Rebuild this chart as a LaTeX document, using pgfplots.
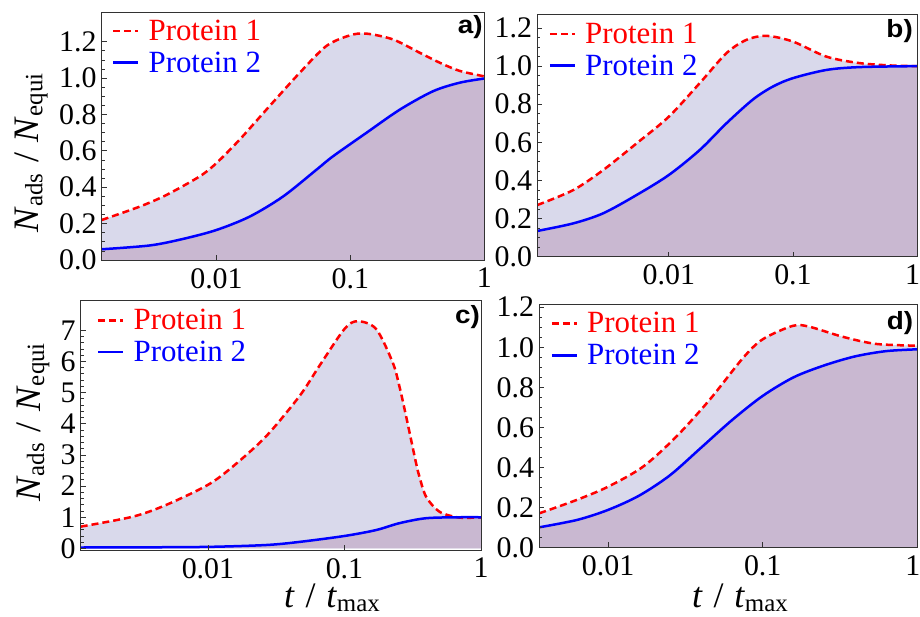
\documentclass[border=0pt]{standalone}
\usepackage{fontspec}
\setmainfont{Liberation Serif}
\setsansfont{Liberation Sans}
\usepackage{pgfplots}
\pgfplotsset{compat=1.18}
\definecolor{lightfill}{RGB}{217,217,235}
\definecolor{darkfill}{RGB}{201,184,209}
\definecolor{framegray}{RGB}{50,50,50}

\pgfplotstableread{
x y
0.00139 0.22
0.00268 0.294
0.00424 0.358
0.0075 0.46
0.01 0.533
0.0149 0.662
0.0236 0.827
0.0419 1.03
0.0662 1.177
0.0989 1.235
0.1315 1.245
0.208 1.213
0.329 1.14
0.465 1.085
0.655 1.04
1 1.01
}\redA
\pgfplotstableread{
x y
0.00139 0.059
0.00318 0.080
0.00564 0.116
0.01 0.165
0.01774 0.239
0.0314 0.349
0.0557 0.496
0.0741 0.570
0.1315 0.699
0.234 0.827
0.414 0.928
0.655 0.975
1 0.998
}\blueA
\pgfplotstableread{
x y
0.00087 0.271
0.0017 0.35
0.00296 0.455
0.0055 0.595
0.01 0.735
0.01774 0.911
0.0291 1.068
0.0422 1.138
0.0611 1.159
0.1 1.129
0.186 1.05
0.344 1.016
0.637 1.003
1 1.0
}\redB
\pgfplotstableread{
x y
0.00087 0.135
0.0017 0.175
0.00296 0.228
0.0055 0.324
0.01 0.429
0.01774 0.56
0.0291 0.70
0.0476 0.825
0.069 0.893
0.1 0.937
0.186 0.98
0.344 0.995
1 1.0
}\blueB
\pgfplotstableread{
x y
0.00117 0.70
0.00282 1.02
0.00497 1.40
0.01 2.04
0.01524 2.63
0.0267 3.6
0.0469 4.89
0.0656 5.86
0.1 7.04
0.125 7.29
0.1706 7.04
0.2254 5.97
0.2523 5.21
0.2825 4.25
0.3344 2.74
0.3537 2.31
0.3963 1.66
0.4955 1.18
0.693 0.99
1 1.0
}\redC
\pgfplotstableread{
x y
0.00117 0.03
0.003 0.035
0.01 0.05
0.0267 0.11
0.0469 0.21
0.1 0.40
0.1706 0.59
0.2523 0.81
0.3963 0.97
0.693 1.0
1 1.0
}\blueC
\pgfplotstableread{
x y
0.00359 0.17
0.00625 0.2365
0.01 0.303
0.01683 0.403
0.0276 0.553
0.0453 0.737
0.0743 0.945
0.1 1.04
0.1563 1.107
0.2 1.103
0.328 1.053
0.5395 1.017
1 1.008
}\redD
\pgfplotstableread{
x y
0.00359 0.10
0.00631 0.137
0.01 0.187
0.01585 0.258
0.02512 0.36
0.03981 0.497
0.0631 0.635
0.1 0.757
0.1585 0.850
0.2512 0.91
0.3981 0.955
0.631 0.981
1 0.99
}\blueD

\tikzset{
  fillA/.style={fill=lightfill, draw=none, smooth},
  fillB/.style={fill=darkfill, draw=none, smooth},
  pone/.style={red, line width=2.5bp, dash pattern=on 7bp off 4bp, smooth},
  ptwo/.style={blue, line width=2.5bp, smooth},
}
\pgfplotsset{
  every axis/.append style={
    scale only axis, anchor=south west,
    axis on top,
    axis line style={framegray, line width=0.9bp},
    tick pos=left, tick align=inside,
    major tick length=5bp, minor tick length=3bp,
    tick style={framegray, line width=0.8bp},
    tick label style={font=\fontsize{30}{30}\selectfont},
    xticklabel style={inner sep=0pt, yshift=-8bp, anchor=north},
    yticklabel style={inner sep=0pt, xshift=-5bp, anchor=east},
  },
  every axis legend/.append style={draw=none, fill=none, at={(0,1)}, anchor=north west,
      font=\fontsize{31}{31}\selectfont, inner sep=0pt, row sep=6bp,
      cells={anchor=west},
      /tikz/every odd column/.append style={column sep=7bp}},
}
\pgfplotsset{legend image code/.code={\draw[#1, line width=2.7bp] (0bp,0bp) -- (25bp,0bp);}}
\newcommand{\plab}[1]{\scalebox{1.12}[1]{\sffamily\bfseries\fontsize{25}{25}\selectfont #1}}
\newcommand{\sub}[1]{\raisebox{-4bp}{\fontsize{25}{25}\selectfont #1}}
\newcommand{\ylab}{\fontsize{36}{36}\selectfont\textit{N}\sub{ads}\hspace{0.3em}/\hspace{0.3em}\textit{N}\sub{equi}}
\newcommand{\xlab}{\fontsize{36}{36}\selectfont\textit{t}\hspace{0.3em}/\hspace{0.3em}\textit{t}\sub{max}}

\begin{document}
\begin{tikzpicture}
\path[use as bounding box] (0,0) rectangle (920bp,617bp);
% panel a
\begin{axis}[xmode=log, xmax=1, xtick={0.01,0.1,1}, xticklabels={0.01,0.1,1}, xminorticks=false,
  at={(101.7bp,357bp)}, width=382.6bp, height=247.3bp,
  xmin=0.00139, ymin=0, ymax=1.36,
  ytick={0,0.2,0.4,0.6,0.8,1.0,1.2}, yticklabels={0.0,0.2,0.4,0.6,0.8,1.0,1.2},
  minor y tick num=3,
  legend style={xshift=10bp, yshift=-5bp}]
\addplot[fillA, forget plot] table {\redA} \closedcycle;
\addplot[fillB, forget plot] table {\blueA} \closedcycle;
\addplot[pone] table {\redA};
\addlegendentry{\textcolor{red}{Protein 1}}
\addplot[ptwo] table {\blueA};
\addlegendentry{\textcolor{blue}{Protein 2}}
\node[anchor=north east, inner sep=0pt, xshift=-1.5bp, yshift=-3bp] at (rel axis cs:1,1) {\plab{a)}};
\end{axis}
% panel b
\begin{axis}[xmode=log, xmax=1, xtick={0.01,0.1,1}, xticklabels={0.01,0.1,{\hspace*{-9bp}1}}, xminorticks=false,
  at={(537.3bp,360.3bp)}, width=379.7bp, height=242bp,
  xmin=0.00087, ymin=0, ymax=1.27,
  ytick={0,0.2,0.4,0.6,0.8,1.0,1.2}, yticklabels={0.0,0.2,0.4,0.6,0.8,1.0,1.2},
  minor y tick num=3,
  legend style={xshift=11bp, yshift=-6bp}]
\addplot[fillA, forget plot] table {\redB} \closedcycle;
\addplot[fillB, forget plot] table {\blueB} \closedcycle;
\addplot[pone] table {\redB};
\addlegendentry{\textcolor{red}{Protein 1}}
\addplot[ptwo] table {\blueB};
\addlegendentry{\textcolor{blue}{Protein 2}}
\node[anchor=north east, inner sep=0pt, xshift=-4bp, yshift=-5bp] at (rel axis cs:1,1) {\plab{b)}};
\end{axis}
% panel c
\begin{axis}[xmode=log, xmax=1, xtick={0.01,0.1,1}, xticklabels={0.01,0.1,1}, xminorticks=false,
  at={(80.7bp,67bp)}, width=400.3bp, height=250bp,
  xmin=0.00117, ymin=-0.05, ymax=7.97,
  ytick={0,1,2,3,4,5,6,7}, yticklabels={0,1,2,3,4,5,6,7},
  minor y tick num=4,
  legend style={xshift=16bp, yshift=-7bp}]
\addplot[fillA, forget plot] table {\redC} \closedcycle;
\addplot[fillB, forget plot] table {\blueC} \closedcycle;
\addplot[pone] table {\redC};
\addlegendentry{\textcolor{red}{Protein 1}}
\addplot[ptwo] table {\blueC};
\addlegendentry{\textcolor{blue}{Protein 2}}
\node[anchor=north east, inner sep=0pt, xshift=-1bp, yshift=-5bp] at (rel axis cs:1,1) {\plab{c)}};
\end{axis}
% panel d
\begin{axis}[xmode=log, xmax=1, xtick={0.01,0.1,1}, xticklabels={0.01,0.1,{\hspace*{-9bp}1}}, xminorticks=false,
  at={(539.3bp,69.7bp)}, width=378bp, height=243bp,
  xmin=0.00359, ymin=0, ymax=1.215,
  ytick={0,0.2,0.4,0.6,0.8,1.0,1.2}, yticklabels={0.0,0.2,0.4,0.6,0.8,1.0,1.2},
  minor y tick num=3,
  legend style={xshift=11bp, yshift=-6bp}]
\addplot[fillA, forget plot] table {\redD} \closedcycle;
\addplot[fillB, forget plot] table {\blueD} \closedcycle;
\addplot[pone] table {\redD};
\addlegendentry{\textcolor{red}{Protein 1}}
\addplot[ptwo] table {\blueD};
\addlegendentry{\textcolor{blue}{Protein 2}}
\node[anchor=north east, inner sep=0pt, xshift=-4bp, yshift=-7bp] at (rel axis cs:1,1) {\plab{d)}};
\end{axis}
% axis labels
\node[rotate=90, anchor=base, inner sep=0pt] at (38.3bp,464bp) {\ylab};
\node[rotate=90, anchor=base, inner sep=0pt] at (40bp,194.5bp) {\ylab};
\node[anchor=base, inner sep=0pt] at (332bp,10bp) {\xlab};
\node[anchor=base, inner sep=0pt] at (740bp,10bp) {\xlab};
\end{tikzpicture}
\end{document}
